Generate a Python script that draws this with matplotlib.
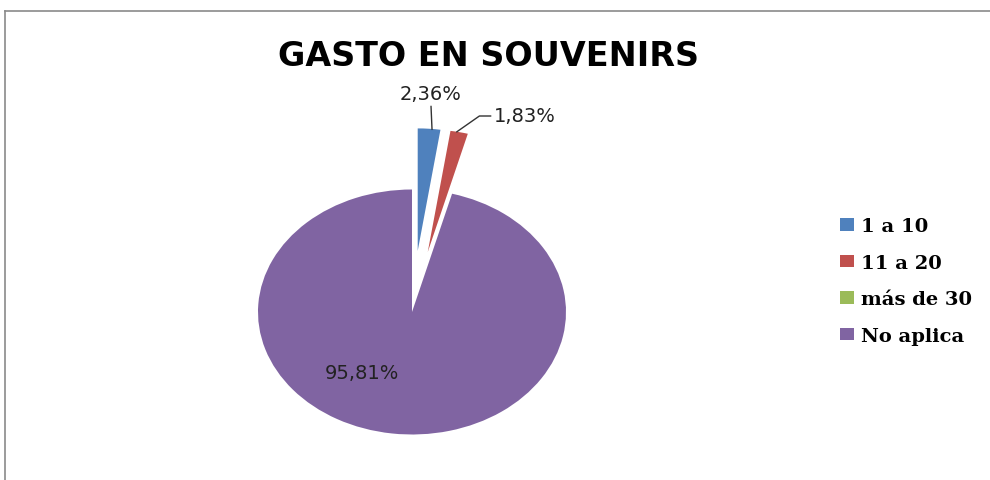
import matplotlib
matplotlib.use("Agg")
import matplotlib.pyplot as plt
from matplotlib.lines import Line2D
import numpy as np

# Data
categorias = ["1 a 10", "11 a 20", "más de 30", "No aplica"]
porcentajes = [2.36, 1.83, 0.0, 95.81]
etiquetas = ["2,36%", "1,83%", "", "95,81%"]
colores = ["#4F81BD", "#C0504D", "#9BBB59", "#8064A2"]
separacion = [0.5, 0.5, 0.5, 0.0]

W, H = 990, 481
fig = plt.figure(figsize=(W / 100, H / 100), dpi=100)
fig.patch.set_facecolor("white")

# pie centre (412, 313) px, radii 154 x 122.5 px (stretched ellipse)
cx, cy, rx, ry = 412, 313, 154, 122.5
x0, x1 = -1.6, 1.6
y0, y1 = -1.3, 1.9
ax = fig.add_axes([(cx + x0 * rx) / W, (H - cy + y0 * ry) / H,
                   (x1 - x0) * rx / W, (y1 - y0) * ry / H])

wedges, _ = ax.pie(porcentajes, colors=colores, explode=separacion,
                   startangle=90, counterclock=False,
                   wedgeprops=dict(linewidth=0))
ax.set_aspect("auto")
ax.set_xlim(x0, x1)
ax.set_ylim(y0, y1)
ax.axis("off")

# labels
ax.annotate(etiquetas[0], xy=(0.13, 1.49), xytext=(0.12, 1.78),
            ha="center", va="center", fontsize=14, color="#222222",
            arrowprops=dict(arrowstyle="-", color="#333333", lw=1,
                            shrinkA=0, shrinkB=0))
ax.annotate(etiquetas[1], xy=(0.29, 1.47), xytext=(0.53, 1.60),
            ha="left", va="center", fontsize=14, color="#222222",
            arrowprops=dict(arrowstyle="-", color="#333333", lw=1,
                            shrinkA=0, shrinkB=0,
                            connectionstyle="angle,angleA=180,angleB=35,rad=0"))
ax.text(-0.325, -0.49, etiquetas[3], ha="center", va="center",
        fontsize=14, color="#222222")

# title
fig.text(489 / W, 1 - 56 / H, "GASTO EN SOUVENIRS", ha="center", va="center",
         fontsize=24, fontweight="bold", color="black")

# legend
fig.legend(wedges, categorias, loc="center left",
           bbox_to_anchor=(822 / W, 1 - 282 / H), frameon=False,
           prop=dict(family="DejaVu Serif", weight="bold", size=14),
           handlelength=0.75, handleheight=0.6,
           handletextpad=0.36, labelspacing=0.95)

# chart border
fig.add_artist(Line2D([5 / W, 5 / W], [0, 1 - 12 / H], color="#8a8a8a", lw=1.2))
fig.add_artist(Line2D([5 / W, 1], [1 - 12 / H, 1 - 12 / H], color="#8a8a8a", lw=1.2))

fig.savefig("out.png", dpi=100, facecolor="white")
